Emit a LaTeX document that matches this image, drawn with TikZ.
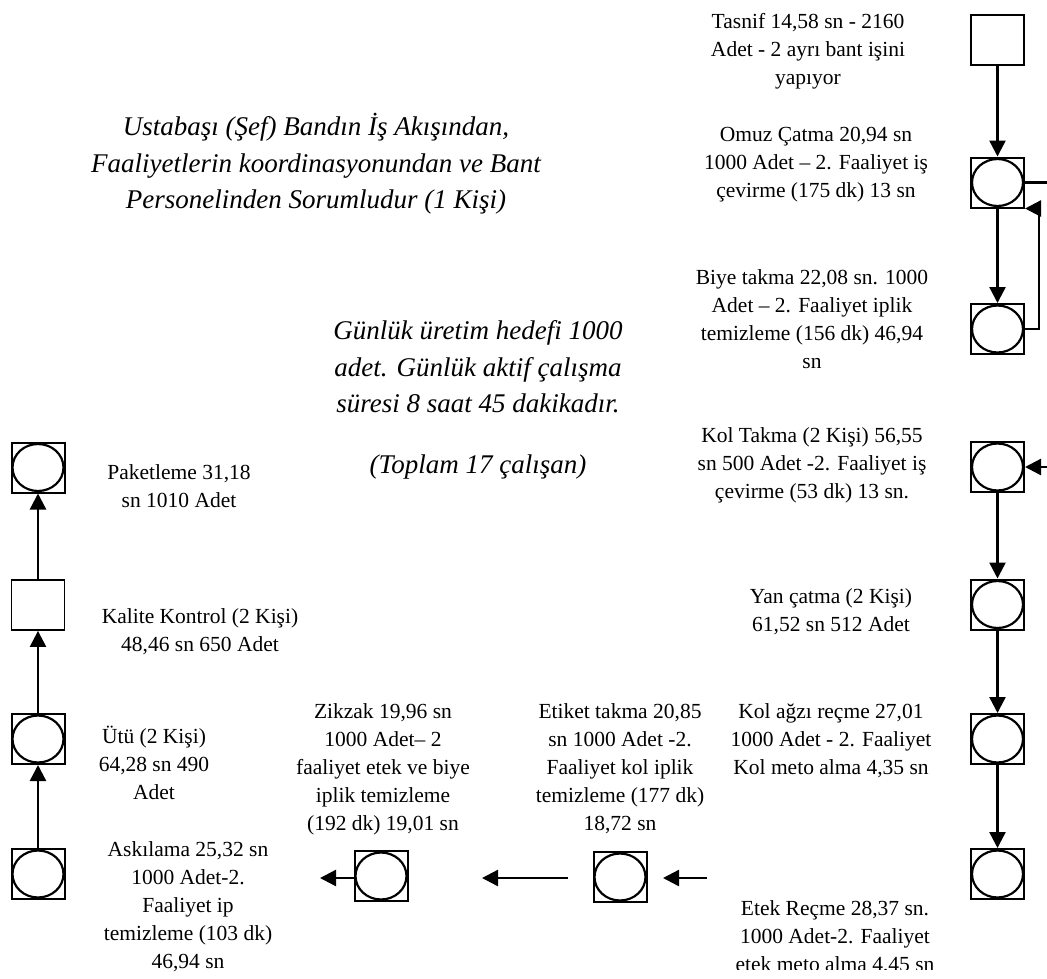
\documentclass[tikz,border=0pt]{standalone}
\usepackage{fontspec}
\setmainfont{Liberation Serif}
\usetikzlibrary{arrows.meta}
\begin{document}
\begin{tikzpicture}[x=1pt,y=-1pt,
  proc/.style={draw, line width=2pt, minimum width=53pt, minimum height=50pt, inner sep=0pt,
    path picture={\draw[line width=2.2pt] (path picture bounding box.center) ellipse (25.5pt and 23.5pt);}},
  sq/.style={draw, line width=1.8pt, minimum width=53pt, minimum height=50pt, inner sep=0pt},
  lbl/.style={align=center, font=\fontsize{21.5}{28}\selectfont, inner sep=0pt},
  note/.style={align=center, font=\fontsize{27}{36.5}\selectfont\itshape, inner sep=0pt},
  flow/.style={line width=2.4pt, -{Triangle[length=16pt,width=16pt]}},
  link/.style={line width=2.2pt}
]
\fill[white] (0,0) rectangle (1047,978);
\useasboundingbox (0,0) rectangle (1047,978);

% right column
\node[sq]   (tasnif)   at (997.5,40) {};
\node[proc] (omuz)     at (997.5,182.5) {};
\node[proc] (biye)     at (997.5,329) {};
\node[proc] (koltakma) at (997.5,467) {};
\node[proc] (yan)      at (997.5,604.5) {};
\node[proc] (kolagzi)  at (997.5,739) {};
\node[proc] (etek)     at (997.5,874) {};
% left column
\node[proc] (paket)    at (38,467.5) {};
\node[sq]   (kalite)   at (38,605) {};
\node[proc] (utu)      at (38,739) {};
\node[proc] (askilama) at (38,874) {};
% bottom row
\node[proc] (zikzak)   at (381,876) {};
\node[proc] (etiket)   at (620,877) {};

% connectors right column
\draw[flow] (tasnif) -- (omuz);
\draw[flow] (omuz) -- (biye);
\draw[link, line width=1.8pt] (biye.east) -- ++(14,0) -- ([xshift=14pt]omuz.south east);
\draw[flow] ([xshift=14pt]omuz.south east) -- (omuz.south east);
\coordinate (omuzout) at (1047,182.5);
\draw[link] (omuz.east) -- (omuzout);
\coordinate (kolin) at (1047,467);
\draw[flow] (kolin) -- (koltakma.east);
\draw[flow] (koltakma) -- (yan);
\draw[flow] (yan) -- (kolagzi);
\draw[flow] (kolagzi) -- (etek);
% left column
\draw[flow] (askilama) -- (utu);
\draw[flow] (utu) -- (kalite);
\draw[flow] (kalite) -- (paket);
% bottom row
\coordinate (e1) at (707,878);
\coordinate (e2) at (663,878);
\draw[flow] (e1) -- (e2);
\coordinate (d1) at (568,878);
\coordinate (d2) at (482,878);
\draw[flow] (d1) -- (d2);
\coordinate (z2) at (320,878);
\draw[flow] (zikzak.west |- z2) -- (z2);

% labels
\node[lbl] (tTasnif) at (808,51) {Tasnif 14,58 sn - 2160\\Adet - 2 ayrı bant işini\\yapıyor};
\node[lbl] (tOmuz) at (816,165) {Omuz Çatma 20,94 sn\\1000 Adet – 2. Faaliyet iş\\çevirme (175 dk) 13 sn};
\node[lbl] (tBiye) at (812,319) {Biye takma 22,08 sn. 1000\\Adet – 2. Faaliyet iplik\\temizleme (156 dk) 46,94\\sn};
\node[lbl] (tKol) at (812,465) {Kol Takma (2 Kişi) 56,55\\sn 500 Adet -2. Faaliyet iş\\çevirme (53 dk) 13 sn.};
\node[lbl] (tYan) at (831,612) {Yan çatma (2 Kişi)\\61,52 sn 512 Adet};
\node[lbl] (tKolagzi) at (831,741) {Kol ağzı reçme 27,01\\1000 Adet - 2. Faaliyet\\Kol meto alma 4,35 sn};
\begin{scope}
\clip (690,880) rectangle (1047,969);
\node[lbl] (tEtek) at (835,938) {Etek Reçme 28,37 sn.\\1000 Adet-2. Faaliyet\\etek meto alma 4,45 sn};
\end{scope}
\node[lbl] (tEtiket) at (620,769) {Etiket takma 20,85\\sn 1000 Adet -2.\\Faaliyet kol iplik\\temizleme (177 dk)\\18,72 sn};
\node[lbl] (tZikzak) at (383,769) {Zikzak 19,96 sn\\1000 Adet– 2\\faaliyet etek ve biye\\iplik temizleme\\(192 dk) 19,01 sn};
\node[lbl] (tAsk) at (188,907) {Askılama 25,32 sn\\1000 Adet-2.\\Faaliyet ip\\temizleme (103 dk)\\46,94 sn};
\node[lbl] (tUtu) at (154,763) {Ütü (2 Kişi)\\64,28 sn 490\\Adet};
\node[lbl] (tKalite) at (200,632) {Kalite Kontrol (2 Kişi)\\48,46 sn 650 Adet};
\node[lbl] (tPaket) at (179,486) {Paketleme 31,18\\sn 1010 Adet};

\node[note] (tUsta) at (316,164) {Ustabaşı (Şef) Bandın İş Akışından,\\Faaliyetlerin koordinasyonundan ve Bant\\Personelinden Sorumludur (1 Kişi)};
\node[note] (tGun) at (478,400) {Günlük üretim hedefi 1000\\adet. Günlük aktif çalışma\\süresi 8 saat 45 dakikadır.\\[24pt](Toplam 17 çalışan)};
\end{tikzpicture}
\end{document}
